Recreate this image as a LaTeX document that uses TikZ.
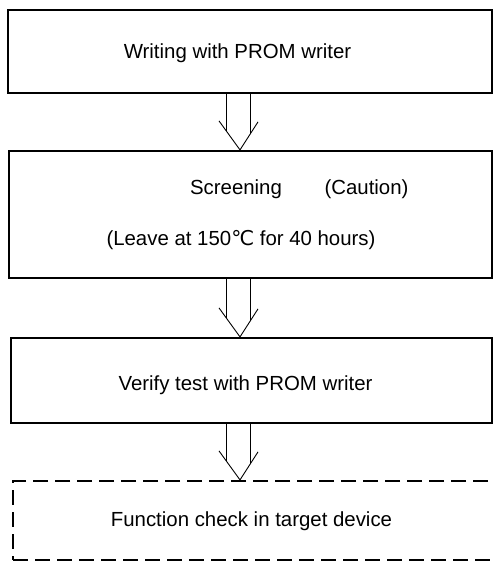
\documentclass[tikz,border=0pt]{standalone}
\usepackage{fontspec}
\setmainfont{Liberation Sans}
\newfontfamily\degfont{DejaVu Sans}
\usepackage{tikz}
\usetikzlibrary{calc}
\usetikzlibrary{positioning}

\tikzset{
  stepbox/.style={draw, line width=2.2pt, inner sep=0pt},
  checkbox/.style={stepbox, dash pattern=on 15pt off 7pt},
  label text/.style={anchor=base, inner sep=0pt, font=\fontsize{20.4}{24}\selectfont},
  flowline/.style={line width=0.9pt}
}
% hollow arrow from box #1 down to box #2
\newcommand{\flowarrow}[2]{%
  \draw[flowline] ($(ax |- #1.south)+(-14,0)$) -- ($(ax |- #2.north)+(-14,-19.3)$);
  \draw[flowline] ($(ax |- #1.south)+(10,0)$) -- ($(ax |- #2.north)+(10,-15.6)$);
  \draw[flowline] ($(ax |- #2.north)+(-21,-29)$) -- (ax |- #2.north) -- ($(ax |- #2.north)+(18,-28)$);
}

\begin{document}
\begin{tikzpicture}[x=1pt,y=-1pt]
    \useasboundingbox (0,0) rectangle (493,562);
    \coordinate (ax) at (240,0);
    % boxes
    \node[stepbox, minimum width=484pt, minimum height=83pt] (W) at (250,51.5) {};
    \node[stepbox, minimum width=483pt, minimum height=127pt] (S) at (250.5,214.5) {};
    \node[stepbox, minimum width=481pt, minimum height=85pt] (V) at (251.5,380.5) {};
    \node[checkbox, minimum width=484pt, minimum height=79pt] (F) at (255,520.5) {};
    % texts
    \node[label text] (write) at (237.5,58) {Writing with PROM writer};
    \node[label text] (screen) at (236,194) {Screening};
    \node[label text] (caution) at (366.5,194.5) {(Caution)};
    \node[label text] (leave) at (241,245) {(Leave at 150{\degfont ℃} for 40 hours)};
    \node[label text] (verify) at (245.5,390) {Verify test with PROM writer};
    \node[label text] (check) at (251.5,526.5) {Function check in target device};
    % arrows
    \flowarrow{W}{S}
    \flowarrow{S}{V}
    \flowarrow{V}{F}
\end{tikzpicture}
\end{document}
